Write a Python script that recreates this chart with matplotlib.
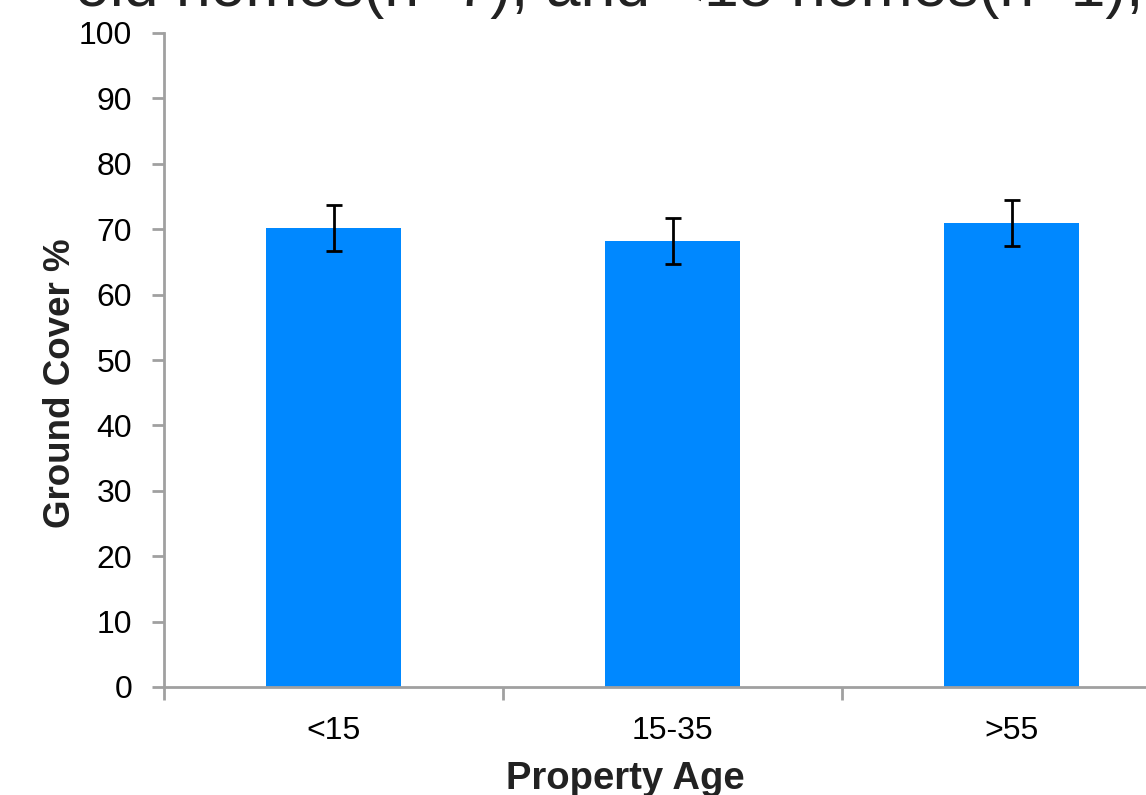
import matplotlib
matplotlib.use("Agg")
import matplotlib.pyplot as plt

categories = ["<15", "15-35", ">55"]
values = [70.2, 68.2, 70.9]
errors = [3.5, 3.5, 3.5]
yticks = [0, 10, 20, 30, 40, 50, 60, 70, 80, 90, 100]
title_text = "old homes(n=7), and <15 homes(n=1),"

plt.rcParams['font.family'] = ['Liberation Sans', 'DejaVu Sans']

W, H = 1146, 795
fig = plt.figure(figsize=(W / 100, H / 100), dpi=100)
fig.patch.set_facecolor("white")

left, right = 164, 1181
bottom, top = 687, 33
ax = fig.add_axes([left / W, 1 - bottom / H, (right - left) / W, (bottom - top) / H])

x = list(range(len(categories)))
ax.bar(x, values, width=0.4, color="#0088FF", zorder=2)
ax.errorbar(x, values, yerr=errors, fmt="none", ecolor="black", elinewidth=2,
            capsize=6, capthick=2, zorder=3)

ax.set_xlim(-0.5, len(categories) - 0.5)
ax.set_ylim(0, 100)
ax.set_yticks(yticks)
ax.set_yticklabels([str(t) for t in yticks], fontsize=23, color="black")

ax.set_xticks(x)
ax.set_xticklabels(categories, fontsize=23, color="black")
ax.tick_params(axis="x", length=0, pad=21)
ax.set_xticks([-0.5, 0.5, 1.5, 2.5], minor=True)
ax.tick_params(axis="x", which="minor", length=9, width=2, color="#A0A0A0", direction="out")
ax.tick_params(axis="y", length=9, width=2, color="#A0A0A0", direction="out", pad=14)

for s in ["top", "right"]:
    ax.spines[s].set_visible(False)
for s in ["left", "bottom"]:
    ax.spines[s].set_color("#A0A0A0")
    ax.spines[s].set_linewidth(2)

fig.text(60 / W, 1 - 383 / H, "Ground Cover %", fontsize=26.5, fontweight="bold",
         color="#222222", ha="center", va="center", rotation=90)
fig.text(625 / W, 1 - 789 / H, "Property Age", fontsize=27.5, fontweight="bold",
         color="#222222", ha="center", va="baseline")

fig.text(75 / W, 1 - 6 / H, title_text, fontsize=45, color="#222222",
         ha="left", va="baseline")

fig.savefig("out.png", dpi=100, facecolor="white")
